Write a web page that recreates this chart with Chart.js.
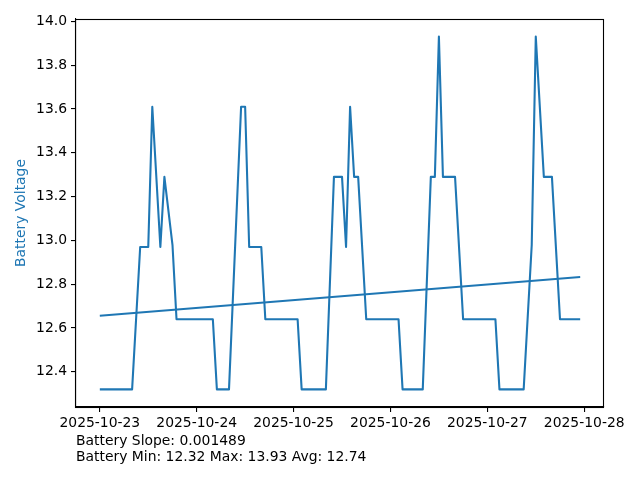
<!DOCTYPE html>
<html>
<head>
<meta charset="utf-8">
<script src="https://cdn.jsdelivr.net/npm/chart.js@4"></script>
<style>
  html, body { margin: 0; padding: 0; background: #fff; }
  #wrap { width: 640px; height: 480px; position: relative; }
</style>
</head>
<body>
<div id="wrap"><canvas id="c" width="640" height="480"></canvas></div>
<script>
// Hours since 2025-10-23 00:00
const hours = [0, 8, 10, 12, 13, 15, 16, 18, 19, 28, 29, 32, 35, 36, 37, 40, 41, 49, 50, 56, 58, 60, 61, 62, 63, 64, 66, 74, 75, 80, 82, 83, 84, 85, 88, 90, 98, 99, 105, 107, 108, 110, 112, 114, 119];
const voltage = [12.32, 12.32, 12.97, 12.97, 13.61, 12.97, 13.29, 12.98, 12.64, 12.64, 12.32, 12.32, 13.61, 13.61, 12.97, 12.97, 12.64, 12.64, 12.32, 12.32, 13.29, 13.29, 12.97, 13.61, 13.29, 13.29, 12.64, 12.64, 12.32, 12.32, 13.29, 13.29, 13.93, 13.29, 13.29, 12.64, 12.64, 12.32, 12.32, 12.98, 13.93, 13.29, 13.29, 12.64, 12.64];
const trendHours = [0, 119];
const trendVoltage = [12.656, 12.833];
const xTickHours = [0, 24, 48, 72, 96, 120];
const xTickLabels = ['2025-10-23', '2025-10-24', '2025-10-25', '2025-10-26', '2025-10-27', '2025-10-28'];
const yTicks = [12.4, 12.6, 12.8, 13.0, 13.2, 13.4, 13.6, 13.8, 14.0];
const footerLines = ['Battery Slope: 0.001489', 'Battery Min: 12.32 Max: 13.93 Avg: 12.74'];

const BLUE = '#1f77b4';
const FONT = 'DejaVu Sans';
const FS = 13.9;

const mainData = hours.map((h, i) => ({x: h, y: voltage[i]}));
const trendData = trendHours.map((h, i) => ({x: h, y: trendVoltage[i]}));

const framePlugin = {
  id: 'frame',
  afterDraw(chart) {
    const {ctx, chartArea: a} = chart;
    ctx.save();
    ctx.strokeStyle = '#000';
    ctx.lineWidth = 1.1;
    ctx.strokeRect(Math.round(a.left) - 0.5, Math.round(a.top) + 0.5, Math.round(a.right - a.left), Math.round(a.bottom - a.top));
    ctx.fillStyle = '#000';
    ctx.font = FS + 'px "' + FONT + '"';
    ctx.textBaseline = 'middle';
    ctx.textAlign = 'left';
    footerLines.forEach((t, i) => ctx.fillText(t, a.left, 441 + i * 16));
    ctx.restore();
  }
};

new Chart(document.getElementById('c'), {
  type: 'line',
  data: {
    datasets: [
      { data: mainData, borderColor: BLUE, borderWidth: 2.08, pointRadius: 0, tension: 0, fill: false, borderJoinStyle: 'round', borderCapStyle: 'butt' },
      { data: trendData, borderColor: BLUE, borderWidth: 2.08, pointRadius: 0, tension: 0, fill: false }
    ]
  },
  options: {
    responsive: false,
    animation: false,
    devicePixelRatio: 1,
    layout: { padding: { left: 0, right: 36, top: 19, bottom: 0 } },
    plugins: { legend: { display: false }, tooltip: { enabled: false } },
    scales: {
      x: {
        type: 'linear',
        min: -5.9,
        max: 124.9,
        afterFit(s) { s.height = 73; },
        afterBuildTicks(s) { s.ticks = xTickHours.map(v => ({value: v})); },
        grid: { display: true, drawOnChartArea: false, drawTicks: true, tickLength: 5, lineWidth: 1.1, color: '#000', tickColor: '#000' },
        border: { display: true, color: '#000', width: 1.1 },
        ticks: {
          color: '#000',
          font: { family: FONT, size: FS },
          padding: 3,
          maxRotation: 0,
          autoSkip: false,
          callback: (v) => { const i = xTickHours.indexOf(v); return i >= 0 ? xTickLabels[i] : ''; }
        }
      },
      y: {
        type: 'linear',
        min: 12.2395,
        max: 14.0105,
        afterFit(s) { s.width = 76; },
        afterBuildTicks(s) { s.ticks = yTicks.map(v => ({value: v})); },
        grid: { display: true, drawOnChartArea: false, drawTicks: true, tickLength: 5, lineWidth: 1.1, color: '#000', tickColor: '#000' },
        border: { display: true, color: '#000', width: 1.1 },
        title: { display: true, text: 'Battery Voltage', color: BLUE, font: { family: FONT, size: FS, lineHeight: 1 }, padding: { top: 14, bottom: 0 } },
        ticks: {
          color: '#000',
          font: { family: FONT, size: FS },
          padding: 4,
          callback: (v) => v.toFixed(1)
        }
      }
    }
  },
  plugins: [framePlugin]
});
</script>
</body>
</html>
